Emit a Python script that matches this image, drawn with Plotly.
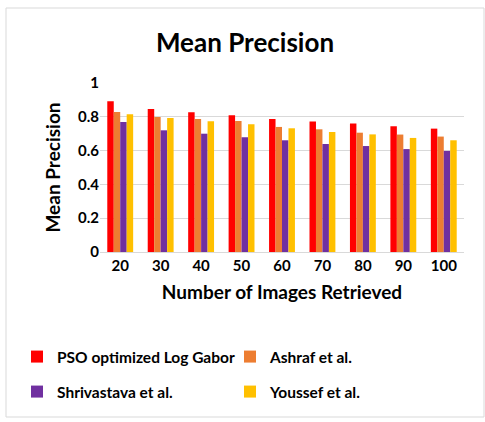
import plotly.graph_objects as go

categories = ["20", "30", "40", "50", "60", "70", "80", "90", "100"]
series_names = ["PSO optimized Log Gabor", "Ashraf et al.", "Shrivastava et al.", "Youssef et al."]
pso = [0.892, 0.846, 0.827, 0.809, 0.787, 0.772, 0.760, 0.744, 0.730]
ashraf = [0.828, 0.799, 0.787, 0.775, 0.740, 0.726, 0.706, 0.695, 0.683]
shrivastava = [0.769, 0.720, 0.700, 0.679, 0.661, 0.639, 0.627, 0.609, 0.598]
youssef = [0.815, 0.793, 0.773, 0.756, 0.732, 0.710, 0.696, 0.675, 0.661]
colors = ["#FF0000", "#ED7D31", "#7030A0", "#FFC000"]
y_ticks = [0, 0.2, 0.4, 0.6, 0.8, 1]
y_tick_labels = ["0", "0.2", "0.4", "0.6", "0.8", "1"]

FONT = "Lato"
legend_ids = ["legend", "legend2", "legend3", "legend4"]
fig = go.Figure()
for i, (name, vals) in enumerate(zip(series_names, [pso, ashraf, shrivastava, youssef])):
    fig.add_trace(go.Bar(
        x=categories, y=vals, name="<b>%s</b>" % name, marker_color=colors[i],
        marker_line_width=0, legend=legend_ids[i], showlegend=True,
    ))

W, H = 485, 422
L, R, T, B = 100, 21, 83, 170
pw, ph = W - L - R, H - T - B

def px(x):
    return (x - L) / pw

def py(y):
    return (H - B - y) / ph

def leg(xp, yp):
    return dict(
        orientation="h", xanchor="left", yanchor="middle",
        x=px(xp), y=py(yp), visible=True,
        font=dict(family=FONT, size=15.5, color="#000000"),
        bgcolor="rgba(0,0,0,0)", borderwidth=0, itemwidth=30,
    )

fig.update_layout(
    width=W, height=H, showlegend=True,
    margin=dict(l=L, r=R, t=T, b=B, autoexpand=False),
    paper_bgcolor="white", plot_bgcolor="white",
    barmode="group", bargap=0.36, bargroupgap=0,
    title=dict(text="<b>Mean Precision</b>", x=px(245), xref="paper", xanchor="center",
               y=1 - 43 / H, yanchor="middle",
               font=dict(family=FONT, size=26, color="#000000")),
    legend=leg(17, 357),
    legend2=leg(230, 357),
    legend3=leg(17, 392),
    legend4=leg(230, 392),
    xaxis=dict(
        tickfont=dict(family=FONT, size=15, color="#000000"),
        tickprefix="<b>", ticksuffix="</b>",
        showline=True, linecolor="#D9D9D9", linewidth=1,
        showgrid=False, ticks="",
        title=dict(text="<b>Number of Images Retrieved</b>", standoff=12,
                   font=dict(family=FONT, size=19, color="#000000")),
    ),
    yaxis=dict(
        range=[0, 1.0], tickvals=y_ticks, ticktext=["<b>%s</b>" % t for t in y_tick_labels],
        tickfont=dict(family=FONT, size=15, color="#000000"),
        showgrid=True, gridcolor="#D9D9D9", gridwidth=1,
        zeroline=False, ticks="", ticklen=0,
        title=dict(text="<b>Mean Precision</b>", standoff=12,
                   font=dict(family=FONT, size=19, color="#000000")),
    ),
    shapes=[dict(type="rect", xref="paper", yref="paper",
                 x0=px(6), x1=px(484), y0=py(417), y1=py(8),
                 line=dict(color="#D9D9D9", width=1), fillcolor="rgba(0,0,0,0)", layer="below")],
)

fig.write_html("out.html")
